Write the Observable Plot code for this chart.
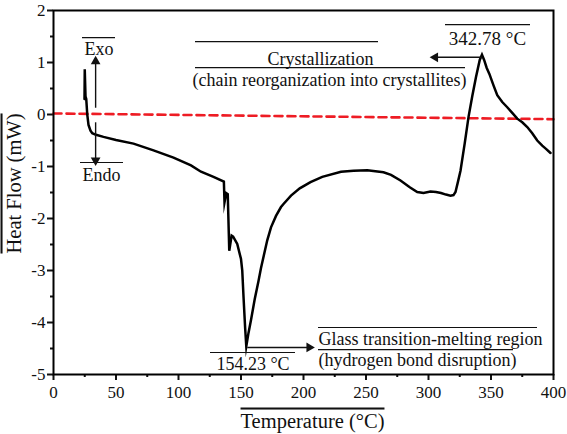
<!DOCTYPE html>
<html>
<head>
<meta charset="utf-8">
<script src="https://cdn.jsdelivr.net/npm/d3@7"></script>
<script src="https://cdn.jsdelivr.net/npm/@observablehq/plot@0.6"></script>
<style>
  html, body { margin: 0; padding: 0; background: white; }
  svg text { font-family: "Liberation Serif", "Times New Roman", serif; }
</style>
</head>
<body>
<div id="chart"></div>
<script>
// DSC curve: temperature (°C) and heat flow (mW)
const temps = [24.8, 25.0, 25.6, 26.2, 27, 28, 29.6, 31, 34, 40, 50, 64, 80, 96, 110, 118, 128, 136.3, 136.8, 138.2, 139.4, 140.6, 142.5, 143.7, 147, 150, 151, 152, 153.3, 154.23, 156, 158, 161, 164, 166, 171, 174, 178, 182, 184, 190, 197, 205.6, 215, 230, 240, 251, 264, 270, 277.6, 285, 291, 296, 301.6, 306, 310, 314, 317.6, 320, 321.6, 323.5, 325.6, 329, 332, 335, 338, 341, 342.78, 344.5, 346.5, 348.7, 352, 355, 359, 363, 367, 371, 375, 379, 383, 387, 391, 394, 397.6];
const heatFlow = [0.3, 0.87, 0.35, 0.3, 0.0, -0.2, -0.31, -0.36, -0.39, -0.43, -0.49, -0.56, -0.69, -0.83, -0.98, -1.1, -1.2, -1.29, -1.69, -1.51, -1.53, -2.62, -2.33, -2.35, -2.49, -2.78, -3.0, -3.5, -4.1, -4.46, -4.2, -3.95, -3.55, -3.2, -2.95, -2.42, -2.17, -1.95, -1.78, -1.72, -1.56, -1.42, -1.30, -1.2, -1.10, -1.08, -1.07, -1.11, -1.16, -1.27, -1.40, -1.49, -1.51, -1.48, -1.49, -1.51, -1.54, -1.56, -1.55, -1.49, -1.3, -1.08, -0.55, -0.05, 0.35, 0.72, 1.05, 1.15, 1.05, 0.9, 0.78, 0.56, 0.37, 0.24, 0.14, 0.03, -0.08, -0.15, -0.24, -0.36, -0.5, -0.6, -0.66, -0.74];

// Baseline (red dashed)
const baseT = [0, 400];
const baseV = [0.02, -0.09];

// Axis ticks
const xTicks = [0, 50, 100, 150, 200, 250, 300, 350, 400];
const xMinor = [25, 75, 125, 175, 225, 275, 325, 375];
const yTicks = [-5, -4, -3, -2, -1, 0, 1, 2];
const yMinor = [-4.5, -3.5, -2.5, -1.5, -0.5, 0.5, 1.5];

// Annotation texts (data coordinates)
const noteText = ["Exo", "Endo", "Crystallization", "(chain reorganization into crystallites)", "154.23 °C", "Glass transition-melting region", "(hydrogen bond disruption)"];
const noteX = [36.4, 38.4, 213.6, 220.8, 159.6, 212, 212];
const noteY = [1.135, -1.27, 0.96, 0.54, -4.92, -4.44, -4.846];
const noteAnchor = ["middle", "middle", "middle", "middle", "middle", "start", "start"];
const peakText = ["342.78 °C"];
const peakX = [347.2];
const peakY = [1.327];

// Overlines over annotation texts
const overX1 = [23.2, 21.6, 313.6, 113.6, 113.6, 125.6, 212, 212];
const overX2 = [49.6, 56, 381.6, 260, 329.6, 193.6, 387.2, 368];
const overY = [1.48, -0.923, 1.73, 1.40, 0.90, -4.577, -4.096, -4.52];

// Arrows: start, end
const arrowX1 = [33.7, 33.7, 343, 155];
const arrowY1 = [0.13, -0.15, 1.10, -4.48];
const arrowX2 = [33.7, 33.7, 303, 207];
const arrowY2 = [1.08, -0.94, 1.10, -4.48];
const arrowRot = [0, 180, -90, 90];

const curve = temps.map((t, i) => ({T: t, v: heatFlow[i]}));
const base = baseT.map((t, i) => ({T: t, v: baseV[i]}));
const notes = noteText.map((s, i) => ({s, x: noteX[i], y: noteY[i], a: noteAnchor[i]}));
const overs = overX1.map((x1, i) => ({x1, x2: overX2[i], y: overY[i]}));
const arrows = arrowX1.map((x1, i) => ({x1, y1: arrowY1[i], x2: arrowX2[i], y2: arrowY2[i], r: arrowRot[i]}));

const font = "Liberation Serif";
const ink = "#111";

const headOffsets = [[0, 3], [0, -3], [3, 0], [-3, 0]];

const chart = Plot.plot({
  width: 567,
  height: 434,
  marginLeft: 53,
  marginRight: 14,
  marginTop: 10,
  marginBottom: 60,
  x: {domain: [0, 400]},
  y: {domain: [-5, 2]},
  style: {fontFamily: font, fontSize: "17px", color: ink, background: "white"},
  marks: [
    Plot.axisX({ticks: xTicks, tickSize: 6, tickPadding: 5, strokeWidth: 2, tickFormat: d => String(d), fontSize: 17, fontFamily: font, label: null}),
    Plot.axisX({ticks: xMinor, tickSize: 3, strokeWidth: 2, tickFormat: () => "", label: null}),
    Plot.axisY({ticks: yTicks, tickSize: 6, tickPadding: 2, strokeWidth: 2, tickFormat: d => String(d), fontSize: 17, fontFamily: font, label: null}),
    Plot.axisY({ticks: yMinor, tickSize: 3, strokeWidth: 2, tickFormat: () => "", label: null}),
    Plot.line(base, {x: "T", y: "v", stroke: "#ee1c24", strokeWidth: 2.6, strokeDasharray: "8,5"}),
    Plot.line(curve, {x: "T", y: "v", stroke: "black", strokeWidth: 2.5, strokeLinejoin: "miter", strokeMiterlimit: 10}),
    Plot.link(arrows, {x1: "x1", y1: "y1", x2: "x2", y2: "y2", stroke: ink, strokeWidth: 1.4}),
    ...arrows.map((a, i) => Plot.dot([a], {x: "x2", y: "y2", symbol: "triangle", r: 3.6, rotate: "r", fill: ink, stroke: "none", dx: headOffsets[i][0], dy: headOffsets[i][1]})),
    Plot.ruleY(overs, {x1: "x1", x2: "x2", y: "y", stroke: ink, strokeWidth: 1.2}),
    Plot.text(notes.filter(d => d.a === "middle"), {x: "x", y: "y", text: "s", textAnchor: "middle", lineAnchor: "bottom", fontSize: 18, fontFamily: font, fill: ink}),
    Plot.text(notes.filter(d => d.a === "start"), {x: "x", y: "y", text: "s", textAnchor: "start", lineAnchor: "bottom", fontSize: 18, fontFamily: font, fill: ink}),
    Plot.text(peakText, {x: () => peakX[0], y: () => peakY[0], text: d => d, textAnchor: "middle", lineAnchor: "bottom", fontSize: 19, fontFamily: font, fill: ink}),
    Plot.text(["Temperature (°C)"], {frameAnchor: "bottom", text: d => d, textAnchor: "middle", lineAnchor: "bottom", dx: 9, dy: 53, fontSize: 20.5, fontFamily: font, fill: ink}),
    Plot.text(["Heat Flow (mW)"], {frameAnchor: "left", text: d => d, textAnchor: "middle", rotate: -90, lineAnchor: "bottom", dx: -33, dy: -9, fontSize: 20.5, fontFamily: font, fill: ink}),
    Plot.frame({stroke: "black", strokeWidth: 2})
  ]
});

d3.select(chart).selectAll("text")
  .filter(function() { return this.textContent === "Temperature (°C)" || this.textContent === "Heat Flow (mW)"; })
  .style("text-decoration", "overline");

document.getElementById("chart").appendChild(chart);
</script>
</body>
</html>
